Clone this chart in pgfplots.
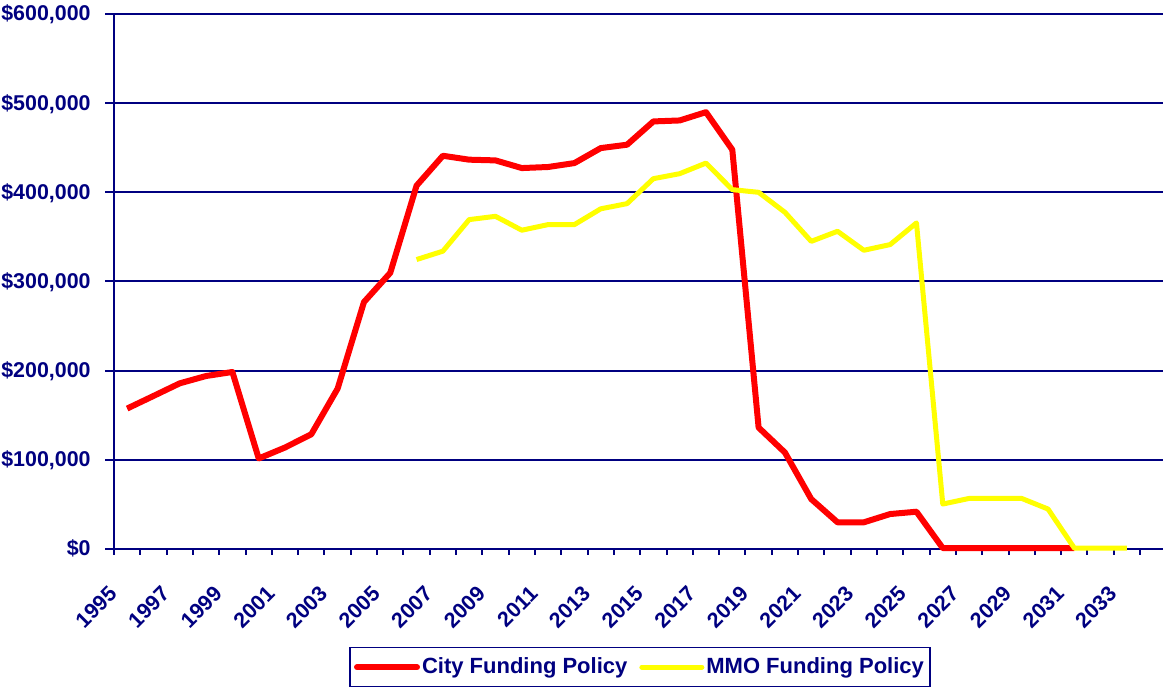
\documentclass[border=0pt]{standalone}
\usepackage{fontspec}
\setmainfont{Liberation Sans}
\usepackage{pgfplots}
\pgfplotsset{compat=1.18}
\definecolor{navy}{RGB}{0,0,128}
\definecolor{cityred}{RGB}{255,0,0}
\definecolor{mmoyellow}{RGB}{255,255,0}
\begin{document}
\begin{tikzpicture}
\useasboundingbox (0,0) rectangle (581.5pt,344pt);
\begin{axis}[
  at={(57pt,69.5pt)}, anchor=south west,
  scale only axis, width=524.5pt, height=267.5pt,
  xmin=1994.5, xmax=2034.37, ymin=0, ymax=600000,
  scaled x ticks=false, scaled y ticks=false,
  axis x line*=bottom, axis y line*=left,
  axis line style={draw=navy, line width=1pt, -},
  ytick={0,100000,200000,300000,400000,500000,600000},
  yticklabels={{\$0},{\$100,000},{\$200,000},{\$300,000},{\$400,000},{\$500,000},{\$600,000}},
  extra y ticks={0,100000,200000,300000,400000,500000,600000},
  extra y tick labels={},
  extra y tick style={major tick length=4.5pt, grid=none},
  ymajorgrids, major grid style={draw=navy, line width=1pt},
  xtick={1994.5,1995.5,...,2033.5},
  xticklabels={},
  extra x ticks={1995,1997,1999,2001,2003,2005,2007,2009,2011,2013,2015,2017,2019,2021,2023,2025,2027,2029,2031,2033},
  extra x tick labels={1995,1997,1999,2001,2003,2005,2007,2009,2011,2013,2015,2017,2019,2021,2023,2025,2027,2029,2031,2033},
  extra x tick style={major tick length=0pt, grid=none},
  tick align=outside,
  major tick length=3pt,
  tick style={draw=navy, line width=1pt},
  ticklabel style={font=\fontsize{10.7}{12}\selectfont\bfseries, text=navy, inner sep=0pt},
  yticklabel style={anchor=base east, xshift=-8.5pt, yshift=-3.5pt},
  xticklabel style={anchor=east, xshift=-7pt, yshift=-20.5pt, rotate=45},
  clip=false,
  legend columns=2,
  legend style={at={(axis description cs:0.5014,-0.1832)}, anchor=north,
    draw=navy, line width=0.75pt, text=navy,
    font=\fontsize{11}{13}\selectfont\bfseries,
    inner xsep=2pt, inner ysep=3pt,
    nodes={inner xsep=1pt, inner ysep=2pt},
    /tikz/every even column/.append style={column sep=5pt}},
  legend image code/.code={\draw[#1, line cap=round] (0pt,0pt) -- (30pt,0pt);},
]
\addplot[color=cityred, line width=3pt, line join=round] coordinates {
(1995,157500) (1996,171600) (1997,185800) (1998,194000) (1999,198500)
(2000,101500) (2001,113800) (2002,128700) (2003,179900) (2004,276900)
(2005,309700) (2006,407500) (2007,441000) (2008,436600) (2009,435800)
(2010,427200) (2011,428400) (2012,432800) (2013,449600) (2014,453400)
(2015,479500) (2016,480600) (2017,489900) (2018,447800) (2019,136200)
(2020,108200) (2021,56000) (2022,29900) (2023,29900) (2024,39200)
(2025,41800) (2026,1000) (2027,1000) (2028,1000) (2029,1000)
(2030,1000) (2031,1000)
};
\addlegendentry{City Funding Policy}
\addplot[color=mmoyellow, line width=2.5pt, line join=round] coordinates {
(2006,324600) (2007,334000) (2008,369400) (2009,373100) (2010,357500)
(2011,363800) (2012,363800) (2013,381500) (2014,387300) (2015,415300)
(2016,420900) (2017,432800) (2018,403000) (2019,400000) (2020,377600)
(2021,345000) (2022,356300) (2023,335000) (2024,341400) (2025,365700)
(2026,50400) (2027,56700) (2028,56700) (2029,56700) (2030,44800)
(2031,1000) (2032,1000) (2033,1000)
};
\addlegendentry{MMO Funding Policy}
\end{axis}
\end{tikzpicture}
\end{document}
